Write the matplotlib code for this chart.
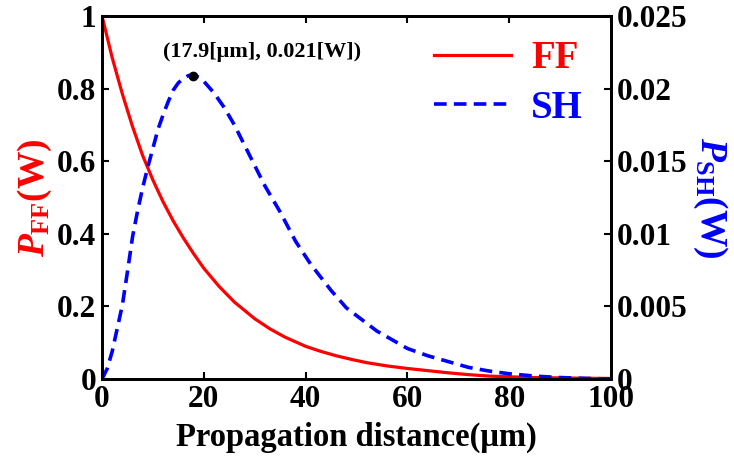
import numpy as np
import matplotlib.pyplot as plt
from matplotlib.ticker import FormatStrFormatter

plt.rcParams['font.family'] = ['Liberation Serif', 'DejaVu Serif']
plt.rcParams['font.weight'] = 'bold'
plt.rcParams['mathtext.fontset'] = 'custom'
plt.rcParams['mathtext.rm'] = 'Liberation Serif:bold'
plt.rcParams['mathtext.it'] = 'Liberation Serif:italic:bold'
plt.rcParams['mathtext.bf'] = 'Liberation Serif:bold'

# potencia del fundamental (FF)
x_ff = [0, 2, 4, 6, 8, 10, 12, 14, 16, 18, 20, 23, 26, 30, 33, 36, 40, 43,
        46, 49, 52, 56, 60, 64, 68, 72, 76, 80, 85, 90, 95, 100]
p_ff = [1.0, 0.885, 0.785, 0.695, 0.615, 0.548, 0.488, 0.435, 0.388, 0.345,
        0.305, 0.255, 0.212, 0.166, 0.138, 0.115, 0.090, 0.076, 0.064, 0.054,
        0.045, 0.036, 0.029, 0.023, 0.017, 0.012, 0.008, 0.006, 0.004, 0.003,
        0.002, 0.0015]

# potencia del segundo armonico (SH)
x_sh = [0, 1, 2, 3, 4, 5, 6, 7, 8, 9, 10, 11, 12, 13, 14, 15, 16, 17, 17.9,
        19, 20, 22, 24, 26, 28, 30, 32, 35, 38, 41, 45, 48, 51, 54, 57, 60,
        64, 68, 72, 76, 80, 85, 90, 95, 100]
p_sh = [0, 0.0007, 0.0019, 0.0035, 0.0051, 0.0074, 0.0098, 0.0116, 0.0132,
        0.0146, 0.0159, 0.0172, 0.0182, 0.0191, 0.0199, 0.0204, 0.0207,
        0.0209, 0.0209, 0.0208, 0.0205, 0.0197, 0.0187, 0.0175, 0.0161,
        0.0147, 0.0133, 0.0115, 0.0095, 0.0079, 0.0061, 0.0049, 0.0041,
        0.0033, 0.0027, 0.0021, 0.0016, 0.0012, 0.0008, 0.00055, 0.00036,
        0.0002, 0.0001, 0.00004, 0.0]

pico_x = 17.9
pico_y = 0.0209
pico_txt = '(17.9[\u03bcm], 0.021[W])'

fig = plt.figure(figsize=(7.34, 4.59), dpi=100)
ax = fig.add_axes([0.139, 0.1743, 0.6935, 0.7908])
ax2 = ax.twinx()

l1, = ax.plot(x_ff, p_ff, color='red', lw=2.3, label='FF')
l2, = ax2.plot(x_sh, p_sh, color='blue', lw=2.6, dashes=(3.5, 2), label='SH')
ax2.plot([pico_x], [pico_y], 'o', color='black', ms=6)
ax2.annotate(pico_txt, (pico_x, pico_y), xytext=(262, 407), textcoords='figure pixels',
             ha='center', va='center', fontsize=16, fontweight='bold')

ax.set_xlim(0, 100)
ax.set_ylim(0, 1)
ax2.set_ylim(0, 0.025)
ax.set_xticks([0, 20, 40, 60, 80, 100])
ax.set_yticks([0, 0.2, 0.4, 0.6, 0.8, 1])
ax2.set_yticks([0, 0.005, 0.01, 0.015, 0.02, 0.025])
ax.yaxis.set_major_formatter(FormatStrFormatter('%g'))
ax2.yaxis.set_major_formatter(FormatStrFormatter('%g'))

ax.tick_params(axis='both', direction='in', labelsize=22.5, width=1.5, length=5,
               top=True, pad=4)
ax2.tick_params(axis='y', direction='in', labelsize=22.5, width=1.5, length=5, pad=4)
for a in (ax, ax2):
    for s in a.spines.values():
        s.set_linewidth(2)

ax.set_xlabel('Propagation distance(\u03bcm)', fontsize=23.5, fontweight='bold', labelpad=6)
ax.set_ylabel(r'$\mathit{P}_{\mathrm{FF}}\mathrm{(W)}$', fontsize=27, color='red', labelpad=2)
ax2.set_ylabel(r'$\mathit{P}_{\mathrm{SH}}\mathrm{(W)}$', fontsize=27, color='blue',
               rotation=270, labelpad=30)

leg = ax2.legend([l1, l2], ['FF', 'SH'], loc='upper right', bbox_to_anchor=(1.013, 1.03),
                 frameon=False, fontsize=28, handlelength=2.0, handletextpad=0.5,
                 labelspacing=0.33)
for t, c in zip(leg.get_texts(), ['red', 'blue']):
    t.set_color(c)
    t.set_fontweight('bold')

fig.savefig('out.png', dpi=100)
